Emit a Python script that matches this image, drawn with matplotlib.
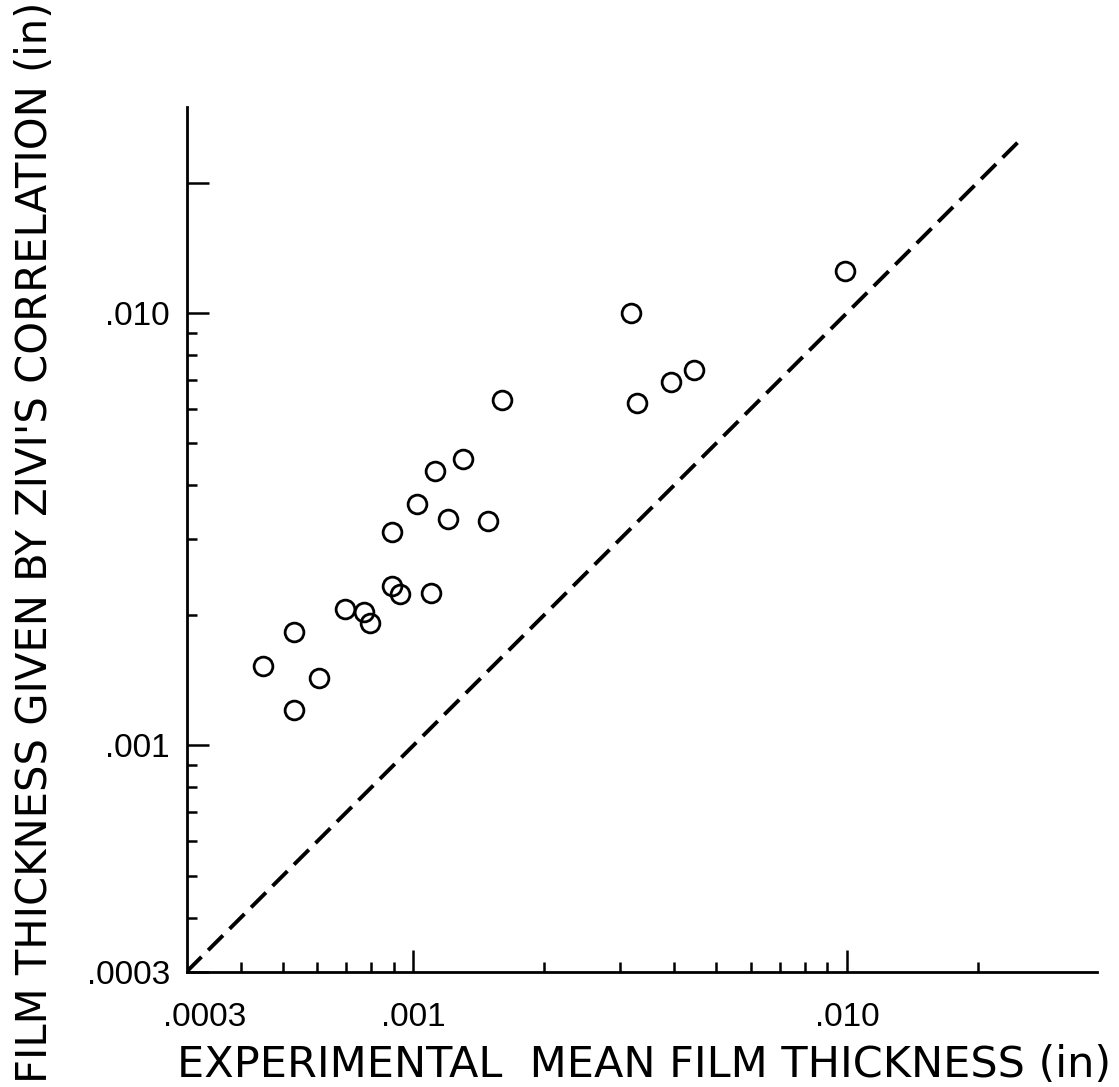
import matplotlib
matplotlib.use("Agg")
import matplotlib.pyplot as plt
from matplotlib.ticker import FixedLocator, NullFormatter

# measured mean film thickness (in) vs. thickness predicted by Zivi's correlation (in)
experimental = [0.00990, 0.00318, 0.00328, 0.00393, 0.00444, 0.00160, 0.00130,
                0.00112, 0.00102, 0.000895, 0.00120, 0.00149, 0.000895, 0.000929,
                0.00110, 0.000697, 0.000771, 0.000796, 0.000530, 0.000451,
                0.000607, 0.000530]
zivi = [0.0125, 0.0100, 0.00620, 0.00693, 0.00738, 0.00627, 0.00460,
        0.00430, 0.00362, 0.00312, 0.00333, 0.00331, 0.00233, 0.00224,
        0.00225, 0.00207, 0.00203, 0.00192, 0.00183, 0.00153,
        0.00143, 0.00121]

# line of perfect agreement
diag = [0.0003, 0.0254]

x_major = [0.001, 0.01]
x_minor = [0.0004, 0.0005, 0.0006, 0.0007, 0.0008, 0.0009,
           0.002, 0.003, 0.004, 0.005, 0.006, 0.007, 0.008, 0.009, 0.02]
x_labels = ['.001', '.010']
y_major = [0.0003, 0.001, 0.01, 0.02]
y_minor = [0.0004, 0.0005, 0.0006, 0.0007, 0.0008, 0.0009,
           0.002, 0.003, 0.004, 0.005, 0.006, 0.007, 0.008, 0.009]
y_labels = ['.0003', '.001', '.010', '']

tick_font = 'Liberation Sans'

fig = plt.figure(figsize=(11.19, 10.87), dpi=100)
ax = fig.add_axes([0.1668, 0.1061, 0.8135, 0.7955])

ax.plot(diag, diag, color='black', lw=2.8, dashes=(5.4, 2.4), dash_capstyle='butt')
ax.plot(experimental, zivi, 'o', ms=13.5, mfc='none', mec='black', mew=2.0)

ax.set_xscale('log')
ax.set_yscale('log')
ax.set_xlim(0.0003, 0.0377)
ax.set_ylim(0.0003, 0.0299)

for side in ('top', 'right'):
    ax.spines[side].set_visible(False)
for side in ('left', 'bottom'):
    ax.spines[side].set_linewidth(2)

ax.xaxis.set_major_locator(FixedLocator(x_major))
ax.xaxis.set_minor_locator(FixedLocator(x_minor))
ax.xaxis.set_minor_formatter(NullFormatter())
ax.set_xticklabels(x_labels, family=tick_font)
ax.yaxis.set_major_locator(FixedLocator(y_major))
ax.yaxis.set_minor_locator(FixedLocator(y_minor))
ax.yaxis.set_minor_formatter(NullFormatter())
ax.set_yticklabels(y_labels, family=tick_font)

ax.tick_params(which='both', direction='in', width=1.8, labelsize=24)
ax.tick_params(which='major', length=16)
ax.tick_params(which='minor', length=7)
ax.tick_params(axis='x', which='major', pad=22)
ax.tick_params(axis='y', which='major', pad=12)

# first x label sits just right of the corner
ax.annotate('.0003', xy=(0.0003, 0), xycoords=('data', 'axes fraction'),
            xytext=(13, -22), textcoords='offset points',
            ha='center', va='top', fontsize=24, family=tick_font)

fig.text(0.576, 0.0092, 'EXPERIMENTAL  MEAN FILM THICKNESS (in)',
         ha='center', va='baseline', fontsize=31)
fig.text(0.042, 0.5014, "FILM THICKNESS GIVEN BY ZIVI'S CORRELATION (in)",
         ha='center', va='baseline', rotation=90, rotation_mode='anchor',
         fontsize=30)

fig.savefig('out.png', dpi=100, facecolor='white')
